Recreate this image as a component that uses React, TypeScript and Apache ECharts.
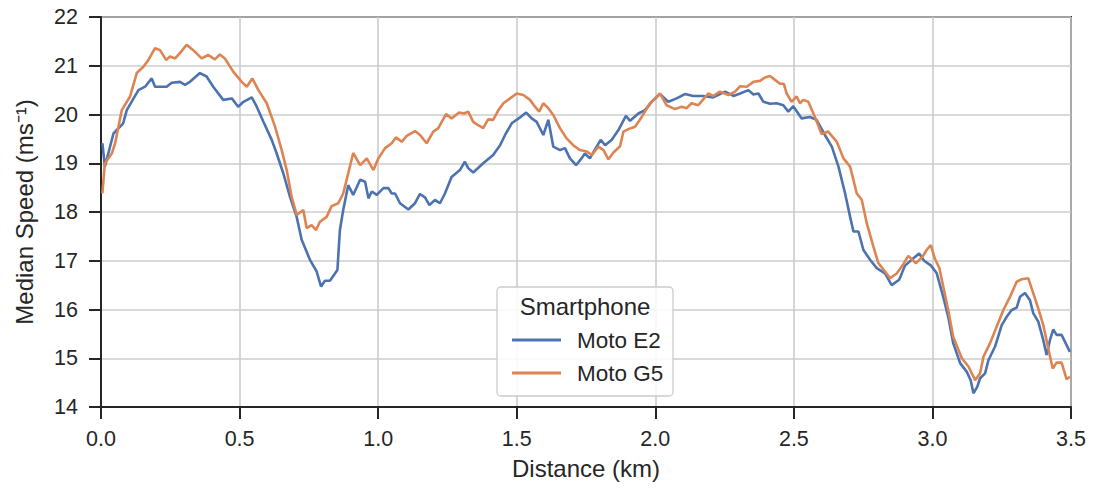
import React, { useEffect, useRef } from "react";
import * as echarts from "echarts";

const e2Dist = [0.005,0.014,0.045,0.080,0.093,0.135,0.159,0.183,0.195,0.237,0.255,0.285,0.303,0.321,0.357,0.381,0.405,0.441,0.472,0.495,0.514,0.544,0.562,0.586,0.616,0.634,0.658,0.682,0.706,0.724,0.754,0.778,0.794,0.808,0.826,0.853,0.862,0.874,0.892,0.910,0.935,0.953,0.965,0.977,0.995,1.019,1.037,1.049,1.061,1.079,1.109,1.133,1.151,1.169,1.185,1.205,1.223,1.241,1.265,1.295,1.313,1.325,1.343,1.379,1.415,1.440,1.458,1.482,1.512,1.534,1.554,1.572,1.596,1.614,1.632,1.656,1.674,1.692,1.714,1.734,1.746,1.764,1.783,1.803,1.819,1.843,1.867,1.894,1.909,1.939,1.963,1.987,2.017,2.047,2.077,2.107,2.137,2.173,2.209,2.252,2.282,2.306,2.336,2.354,2.372,2.390,2.414,2.438,2.462,2.480,2.498,2.528,2.558,2.582,2.612,2.637,2.661,2.685,2.703,2.715,2.733,2.751,2.775,2.799,2.829,2.853,2.880,2.901,2.925,2.952,2.970,2.995,3.015,3.039,3.057,3.075,3.100,3.124,3.138,3.148,3.162,3.172,3.190,3.202,3.226,3.250,3.268,3.286,3.304,3.316,3.334,3.352,3.364,3.382,3.400,3.412,3.424,3.436,3.448,3.466,3.478,3.496];
const e2Speed = [19.41,18.93,19.61,19.82,20.09,20.50,20.57,20.74,20.57,20.57,20.65,20.67,20.61,20.67,20.85,20.78,20.57,20.30,20.33,20.16,20.26,20.35,20.16,19.85,19.48,19.20,18.79,18.31,17.90,17.43,17.02,16.78,16.47,16.59,16.59,16.81,17.63,18.04,18.55,18.35,18.66,18.62,18.28,18.42,18.35,18.49,18.49,18.38,18.38,18.18,18.05,18.18,18.37,18.30,18.14,18.25,18.18,18.38,18.72,18.86,19.03,18.90,18.81,19.00,19.17,19.37,19.58,19.82,19.94,20.04,19.92,19.85,19.58,19.89,19.34,19.27,19.31,19.10,18.96,19.10,19.20,19.10,19.29,19.48,19.37,19.48,19.68,19.97,19.87,20.02,20.09,20.26,20.42,20.26,20.33,20.42,20.38,20.38,20.35,20.47,20.38,20.43,20.50,20.41,20.43,20.26,20.22,20.23,20.19,20.06,20.17,19.92,19.95,19.89,19.58,19.34,18.93,18.38,17.90,17.60,17.60,17.22,17.02,16.85,16.74,16.50,16.61,16.90,17.02,17.15,17.00,16.90,16.75,16.26,15.85,15.31,14.90,14.72,14.55,14.28,14.42,14.59,14.69,14.96,15.24,15.68,15.85,15.99,16.04,16.26,16.34,16.19,15.92,15.75,15.37,15.07,15.37,15.59,15.48,15.48,15.34,15.13];

const g5Dist = [0.005,0.014,0.039,0.051,0.075,0.105,0.129,0.153,0.171,0.195,0.213,0.235,0.249,0.267,0.285,0.309,0.333,0.363,0.387,0.411,0.429,0.447,0.477,0.508,0.526,0.546,0.568,0.598,0.628,0.652,0.670,0.688,0.706,0.730,0.742,0.760,0.776,0.790,0.814,0.832,0.856,0.874,0.892,0.910,0.935,0.959,0.983,1.001,1.025,1.049,1.064,1.085,1.103,1.133,1.151,1.175,1.199,1.217,1.245,1.265,1.292,1.310,1.325,1.343,1.361,1.379,1.397,1.415,1.434,1.452,1.476,1.500,1.524,1.548,1.566,1.581,1.596,1.614,1.632,1.656,1.680,1.704,1.728,1.753,1.771,1.795,1.813,1.831,1.849,1.873,1.885,1.903,1.927,1.951,1.981,2.017,2.041,2.071,2.095,2.113,2.131,2.155,2.173,2.191,2.209,2.233,2.264,2.288,2.306,2.330,2.354,2.378,2.396,2.414,2.432,2.450,2.464,2.474,2.492,2.510,2.522,2.534,2.552,2.576,2.600,2.624,2.655,2.679,2.703,2.727,2.745,2.763,2.787,2.805,2.829,2.847,2.871,2.895,2.913,2.940,2.964,2.979,2.994,3.009,3.025,3.039,3.057,3.075,3.106,3.130,3.154,3.172,3.184,3.208,3.232,3.256,3.280,3.304,3.322,3.346,3.364,3.382,3.400,3.418,3.434,3.448,3.466,3.484,3.496];
const g5Speed = [18.38,19.00,19.20,19.41,20.09,20.37,20.85,20.98,21.12,21.36,21.32,21.12,21.19,21.15,21.26,21.43,21.32,21.15,21.22,21.13,21.23,21.15,20.88,20.67,20.57,20.74,20.50,20.23,19.75,19.27,18.86,18.31,17.94,18.04,17.67,17.73,17.63,17.80,17.90,18.12,18.18,18.38,18.79,19.21,18.96,19.10,18.86,19.10,19.31,19.41,19.53,19.44,19.56,19.66,19.58,19.41,19.65,19.72,20.01,19.92,20.04,20.02,20.06,19.85,19.78,19.72,19.90,19.89,20.09,20.23,20.33,20.43,20.40,20.30,20.16,20.06,20.23,20.13,19.99,19.72,19.51,19.37,19.27,19.24,19.17,19.34,19.27,19.08,19.22,19.35,19.65,19.70,19.75,19.95,20.23,20.43,20.19,20.11,20.16,20.13,20.23,20.19,20.31,20.43,20.38,20.47,20.40,20.47,20.58,20.57,20.67,20.69,20.76,20.79,20.71,20.63,20.63,20.43,20.26,20.37,20.23,20.30,20.26,19.95,19.60,19.65,19.44,19.10,18.93,18.38,18.25,17.77,17.29,16.95,16.78,16.64,16.74,16.93,17.10,16.95,17.08,17.22,17.32,17.04,16.85,16.47,15.99,15.44,15.00,14.83,14.55,14.69,15.03,15.31,15.65,15.99,16.26,16.57,16.62,16.64,16.33,16.02,15.68,15.20,14.79,14.91,14.91,14.57,14.62];

const seriesNames = ["Moto E2", "Moto G5"];
const legendTitle = "Smartphone";
const xLabel = "Distance (km)";
const yLabel = "Median Speed (ms\u207B\u00B9)";

const FONT = "'Liberation Sans', Arial, sans-serif";
const INK = "#262626";

export default function App() {
  const ref = useRef<HTMLDivElement>(null);
  useEffect(() => {
    if (!ref.current) return;
    const chart = echarts.init(ref.current, null, { renderer: "svg" });
    const e2 = e2Dist.map((d, i) => [d, e2Speed[i]]);
    const g5 = g5Dist.map((d, i) => [d, g5Speed[i]]);
    chart.setOption({
      animation: false,
      backgroundColor: "#ffffff",
      textStyle: { fontFamily: FONT },
      grid: {
        left: 101, right: 24, top: 17, bottom: 82,
        show: true, borderColor: INK, borderWidth: 2, backgroundColor: "transparent",
      },
      xAxis: {
        type: "value", min: 0, max: 3.5, interval: 0.5,
        name: xLabel, nameLocation: "middle", nameGap: 49,
        nameTextStyle: { fontSize: 24, color: INK, fontFamily: FONT },
        axisLine: { show: true, onZero: false, lineStyle: { color: INK, width: 2 } },
        axisTick: { show: true, length: 12, lineStyle: { color: INK, width: 2 } },
        axisLabel: { fontSize: 21.5, color: INK, margin: 21, fontFamily: FONT, formatter: (v: number) => v.toFixed(1) },
        splitLine: { show: true, lineStyle: { color: "#cccccc", width: 1.6 } },
      },
      yAxis: {
        type: "value", min: 14, max: 22, interval: 1,
        name: yLabel, nameLocation: "middle", nameGap: 65, nameRotate: 90,
        nameTextStyle: { fontSize: 24, color: INK, fontFamily: FONT },
        axisLine: { show: true, onZero: false, lineStyle: { color: INK, width: 2 } },
        axisTick: { show: true, length: 12, lineStyle: { color: INK, width: 2 } },
        axisLabel: { fontSize: 21.5, color: INK, margin: 23, fontFamily: FONT },
        splitLine: { show: true, lineStyle: { color: "#cccccc", width: 1.6 } },
      },
      legend: {
        orient: "vertical",
        left: 507, top: 323, z: 100,
        icon: "rect",
        itemWidth: 49, itemHeight: 3, itemGap: 9,
        textStyle: { fontSize: 22.5, color: INK, fontFamily: FONT, lineHeight: 24, padding: [0, 0, 0, 11] },
        data: seriesNames,
      },
      graphic: [
        {
          type: "rect", z: 90,
          shape: { x: 497, y: 287, width: 176, height: 109, r: 4 },
          style: { fill: "rgba(255,255,255,0.85)", stroke: "#cccccc", lineWidth: 1.3 },
        },
        {
          type: "text", z: 91, x: 585, y: 306,
          style: { text: legendTitle, fontSize: 24, fill: INK, fontFamily: FONT, textAlign: "center", textVerticalAlign: "middle" },
        },
      ],
      series: [
        {
          name: seriesNames[0], type: "line", data: e2, showSymbol: false, symbol: "none",
          lineStyle: { color: "#4c72b0", width: 2.6 }, itemStyle: { color: "#4c72b0" }, z: 3,
        },
        {
          name: seriesNames[1], type: "line", data: g5, showSymbol: false, symbol: "none",
          lineStyle: { color: "#dd8452", width: 2.6 }, itemStyle: { color: "#dd8452" }, z: 4,
        },
      ],
    });
    return () => chart.dispose();
  }, []);
  return <div ref={ref} style={{ position: "fixed", left: 0, top: 0, width: 1095, height: 489 }} />;
}
